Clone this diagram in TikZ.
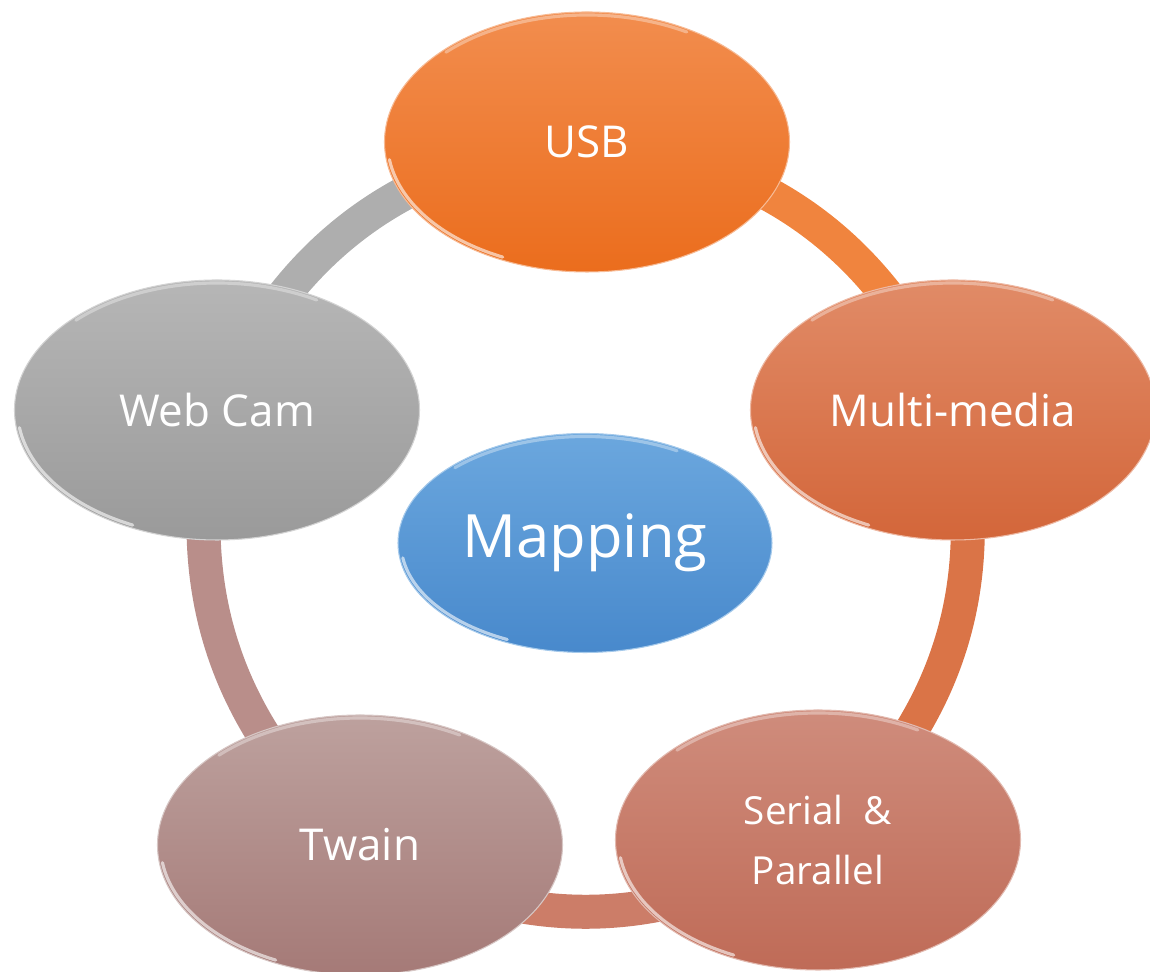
\documentclass[tikz,border=0pt]{standalone}
\usepackage{fontspec}
\setmainfont{Open Sans}
\usetikzlibrary{shapes.geometric,backgrounds}

\definecolor{usbtop}{HTML}{F28D4E}
\definecolor{usbbot}{HTML}{EB6D1D}
\definecolor{mmtop}{HTML}{E18B67}
\definecolor{mmbot}{HTML}{D3663A}
\definecolor{sertop}{HTML}{CF8C7C}
\definecolor{serbot}{HTML}{BF6B57}
\definecolor{twtop}{HTML}{BDA19E}
\definecolor{twbot}{HTML}{A57A77}
\definecolor{camtop}{HTML}{B6B6B6}
\definecolor{cambot}{HTML}{9A9A9A}
\definecolor{maptop}{HTML}{6BA7DE}
\definecolor{mapbot}{HTML}{4889CC}
\definecolor{ringgray}{HTML}{AEAEAE}
\definecolor{ringusb}{HTML}{F0843E}
\definecolor{ringmm}{HTML}{DA7447}
\definecolor{ringser}{HTML}{CC7D68}
\definecolor{ringtw}{HTML}{B98E8A}

\begin{document}
\begin{tikzpicture}[
  every node/.style={font=\fontsize{25}{30}\selectfont, text=white},
  bubble/.style={ellipse, minimum width=8.1cm, minimum height=5.2cm,
    inner sep=0pt, align=center, line width=0.6pt},
  ring/.style={line width=0.68cm},
  gloss/.style={white, opacity=0.6, line width=1.8pt, line cap=round}
]
  \useasboundingbox (-11.74,-8.88) rectangle (11.26,10.56);

  % Outer ellipses
  \node[bubble, top color=usbtop, bottom color=usbbot, draw=usbtop!60!white] (usb) at (0,7.72) {USB};
  \node[bubble, top color=mmtop, bottom color=mmbot, draw=mmtop!60!white] (media) at (7.32,2.36) {Multi-media};
  \node[bubble, top color=sertop, bottom color=serbot, draw=sertop!60!white,
    font=\fontsize{22}{34}\selectfont] (serial) at (4.62,-6.24) {Serial~ \&\\Parallel};
  \node[bubble, top color=twtop, bottom color=twbot, draw=twtop!60!white] (twain) at (-4.54,-6.34) {Twain};
  \node[bubble, top color=camtop, bottom color=cambot, draw=camtop!60!white] (webcam) at (-7.40,2.36) {Web Cam};

  % Centre
  \node[bubble, minimum width=7.48cm, minimum height=4.38cm, top color=maptop, bottom color=mapbot,
    draw=maptop!60!white, font=\fontsize{34}{40}\selectfont] (mapping) at (-0.04,-0.30) {Mapping};

  % Glossy rims
  \foreach \n in {usb,media,serial,twain,webcam} {
    \draw[gloss] (\n.center) ++(188:3.99cm and 2.54cm)
      arc[start angle=188, end angle=245, x radius=3.99cm, y radius=2.54cm];
    \draw[gloss, opacity=0.35] (\n.center) ++(60:3.99cm and 2.54cm)
      arc[start angle=60, end angle=135, x radius=3.99cm, y radius=2.54cm];
  }
  \draw[gloss] (mapping.center) ++(188:3.68cm and 2.13cm)
    arc[start angle=188, end angle=245, x radius=3.68cm, y radius=2.13cm];
  \draw[gloss, opacity=0.35] (mapping.center) ++(60:3.68cm and 2.13cm)
    arc[start angle=60, end angle=135, x radius=3.68cm, y radius=2.13cm];

  % Ring segments
  \begin{scope}[on background layer]
    \draw[ring, draw=ringgray] (webcam.center) to[bend left=31] (usb.center);
    \draw[ring, draw=ringusb] (usb.center) to[bend left=31] (media.center);
    \draw[ring, draw=ringmm] (media.center) to[bend left=31] (serial.center);
    \draw[ring, draw=ringser] (serial.center) to[bend left=31] (twain.center);
    \draw[ring, draw=ringtw] (twain.center) to[bend left=31] (webcam.center);
  \end{scope}
\end{tikzpicture}
\end{document}
